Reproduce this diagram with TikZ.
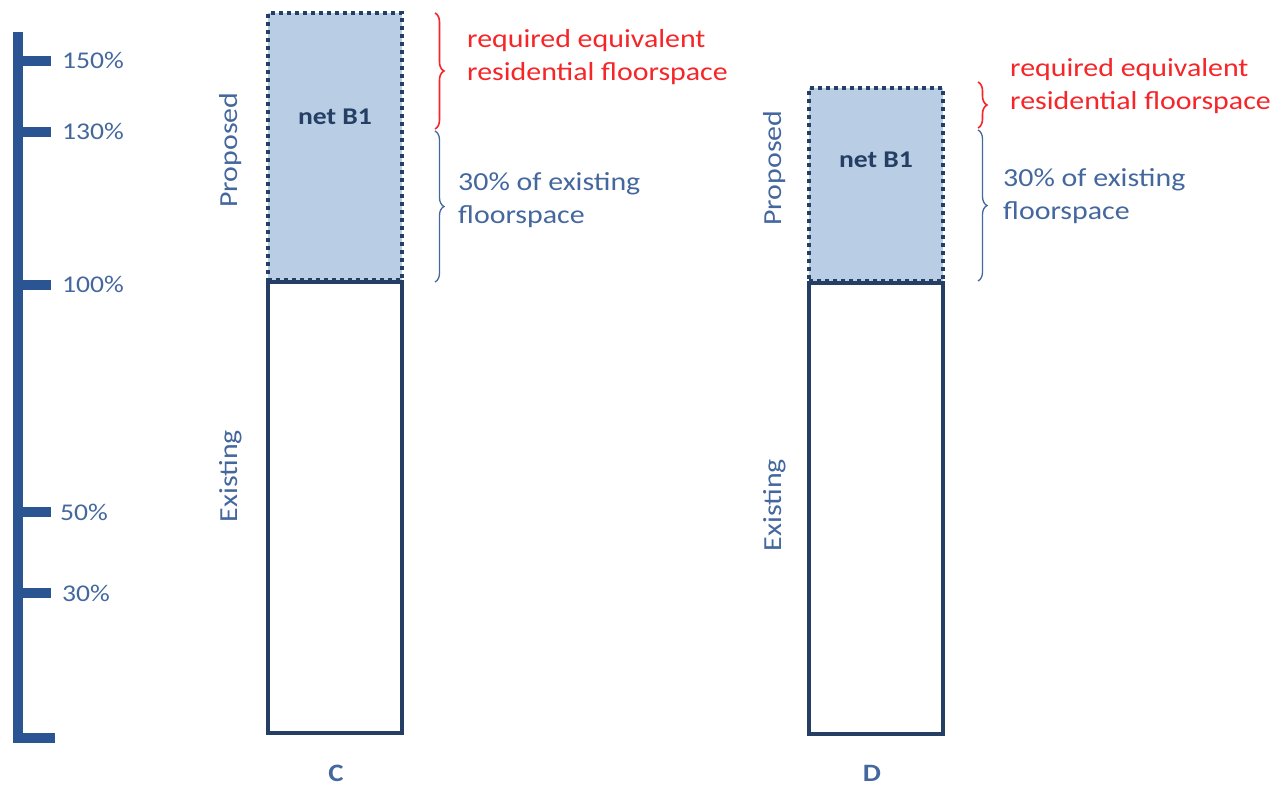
\documentclass[tikz,border=0pt]{standalone}
\usepackage{fontspec}
\setmainfont{Carlito}
\newfontfamily\wfont[FakeStretch=1.15]{Carlito}
\usetikzlibrary{decorations.pathreplacing}
\definecolor{barblue}{HTML}{2B5592}
\definecolor{txtblue}{HTML}{44679E}
\definecolor{navy}{HTML}{243F63}
\definecolor{boxfill}{HTML}{B9CDE5}
\definecolor{redtxt}{HTML}{F52528}
\begin{document}
\begin{tikzpicture}[x=1pt,y=-1pt,
  scalelbl/.style={anchor=west,text=txtblue,font=\wfont\fontsize{24}{28}\selectfont,inner sep=0pt},
  sidelbl/.style={rotate=90,text=txtblue,font=\wfont\fontsize{26}{30}\selectfont,inner sep=0pt},
  existbox/.style={draw=navy,line width=3.5pt,fill=white,inner sep=0pt,minimum width=134pt},
  propbox/.style={draw=navy,line width=3.8pt,fill=boxfill,dash pattern=on 4pt off 4pt,inner sep=0pt,minimum width=134pt},
  netlbl/.style={text=navy,font=\wfont\fontsize{24}{28}\selectfont\bfseries,inner sep=0pt},
  collbl/.style={text=txtblue,font=\wfont\fontsize{25}{28}\selectfont\bfseries,inner sep=0pt},
  redbrace/.style={draw=redtxt,line width=1.6pt,decorate,decoration={brace,amplitude=9pt}},
  bluebrace/.style={draw=txtblue,line width=1.3pt,decorate,decoration={brace,amplitude=9pt}},
  rednote/.style={anchor=west,align=left,text=redtxt,font=\wfont\fontsize{26}{33}\selectfont,inner sep=0pt},
  bluenote/.style={anchor=west,align=left,text=txtblue,font=\wfont\fontsize{26}{33}\selectfont,inner sep=0pt},
  tick/.style={fill=barblue,draw=none}]
\useasboundingbox (0,0) rectangle (1287,788);
% scale
\fill[tick] (13,32) rectangle (23,742);
\fill[tick] (13,56) rectangle (51,66);
\fill[tick] (13,127) rectangle (51,137);
\fill[tick] (13,280) rectangle (51,290);
\fill[tick] (13,507) rectangle (51,517);
\fill[tick] (13,588) rectangle (51,598);
\fill[tick] (13,733) rectangle (55,743);
\node[scalelbl] (s150) at (62,60) {150\%};
\node[scalelbl] (s130) at (62,131) {130\%};
\node[scalelbl] (s100) at (62,284) {100\%};
\node[scalelbl] (s50) at (60,512) {50\%};
\node[scalelbl] (s30) at (62,593) {30\%};
% column C
\node[propbox,minimum height=267pt] (propC) at (335,146.5) {};
\node[existbox,minimum height=451pt] (existC) at (335,507.5) {};
\node[netlbl] (netC) at (335,117) {net B1};
\node[sidelbl] (pC) at (231,150) {Proposed};
\node[sidelbl] (eC) at (231,476) {Existing};
\node[collbl] (lC) at (336,773) {C};
\coordinate (cr1) at (435,13);
\coordinate (cr2) at (435,129);
\coordinate (cb1) at (435,131);
\coordinate (cb2) at (435,282);
\draw[redbrace] (cr1) -- (cr2);
\draw[bluebrace] (cb1) -- (cb2);
\node[rednote] (rnC) at (467,57) {required equivalent\\residential floorspace};
\node[bluenote] (bnC) at (458,200) {30\% of existing\\floorspace};
% column D
\node[propbox,minimum height=193pt] (propD) at (876,184.5) {};
\node[existbox,minimum height=451pt] (existD) at (876,508.5) {};
\node[netlbl] (netD) at (876,160) {net B1};
\node[sidelbl] (pD) at (775,168) {Proposed};
\node[sidelbl] (eD) at (775,505) {Existing};
\node[collbl] (lD) at (872,773) {D};
\coordinate (dr1) at (978,82);
\coordinate (dr2) at (978,128);
\coordinate (db1) at (978,130);
\coordinate (db2) at (978,281);
\draw[redbrace] (dr1) -- (dr2);
\draw[bluebrace] (db1) -- (db2);
\node[rednote] (rnD) at (1010,86) {required equivalent\\residential floorspace};
\node[bluenote] (bnD) at (1003,196) {30\% of existing\\floorspace};
\end{tikzpicture}
\end{document}
